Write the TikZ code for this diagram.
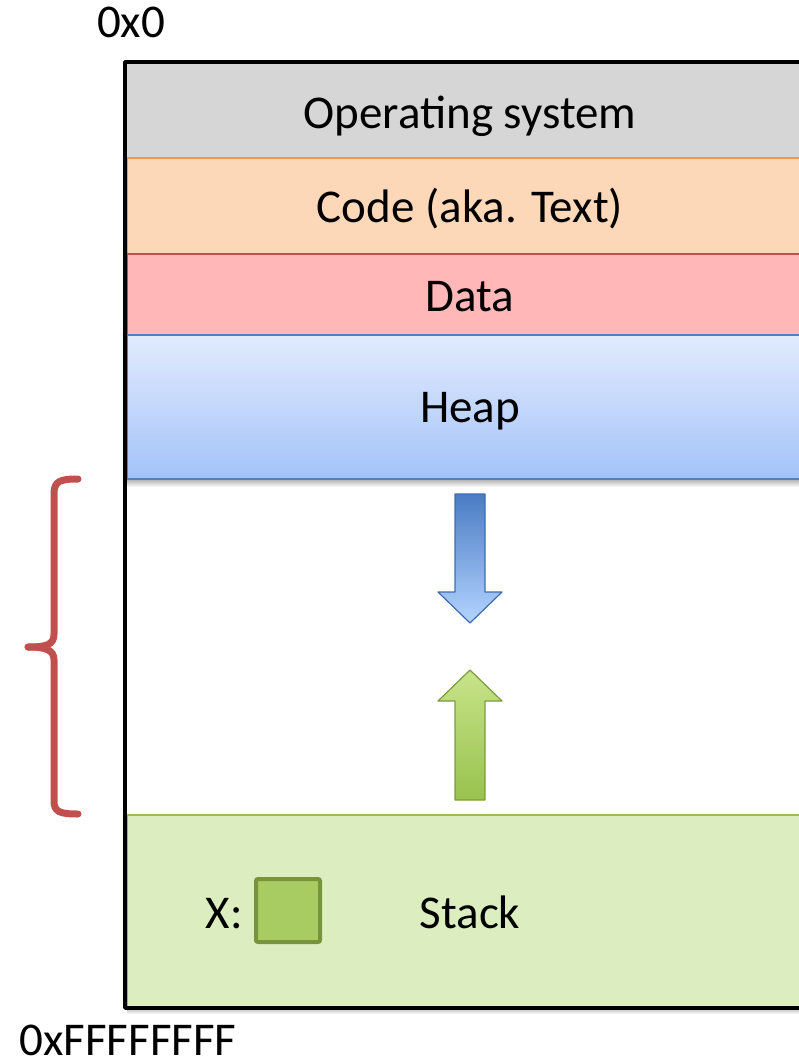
\documentclass[tikz,border=0pt]{standalone}
\usepackage{fontspec}
\setmainfont{Carlito}
\definecolor{osgray}{HTML}{D6D6D6}
\definecolor{codefill}{HTML}{FDD8B8}
\definecolor{codeline}{HTML}{F79646}
\definecolor{datafill}{HTML}{FFB7B7}
\definecolor{dataline}{HTML}{C0504D}
\definecolor{heaptop}{HTML}{E2EBFD}
\definecolor{heapbot}{HTML}{A3C3F9}
\definecolor{heapline}{HTML}{4F81BD}
\definecolor{stackfill}{HTML}{DCEEC0}
\definecolor{stackline}{HTML}{9BBB59}
\definecolor{varfill}{HTML}{A9CC62}
\definecolor{varline}{HTML}{77933C}
\definecolor{bracered}{HTML}{C0504D}
\definecolor{bluedark}{HTML}{4A7CC4}
\definecolor{bluelight}{HTML}{B4D4FF}
\definecolor{blueedge}{HTML}{3E6DAE}
\definecolor{greenlight}{HTML}{C8E48A}
\definecolor{greendark}{HTML}{98C24E}
\definecolor{greenedge}{HTML}{7C9C3E}
\tikzset{
  label/.style={inner sep=0pt, anchor=base, font=\fontsize{47}{56}\selectfont},
  section/.style={line width=1.5pt},
  growarrow/.style={line width=1.2pt, line join=round},
  bracepath/.style={draw=bracered, line width=7pt, line cap=round, line join=round},
  shadowband/.style={top color=black!28, bottom color=white, draw=none}
}
\begin{document}
\begin{tikzpicture}[x=1pt,y=-1pt]
\useasboundingbox (0,0) rectangle (799,1063);
\begin{scope}
  \clip (0,0) rectangle (799,1063);
  % memory segments, top to bottom
  \fill[osgray] (125,62) rectangle (820,158);
  \draw[section, draw=codeline, fill=codefill] (127,158) rectangle (820,254);
  \draw[section, draw=dataline, fill=datafill] (127,254) rectangle (820,335);
  \shade[top color=heaptop, bottom color=heapbot] (127,335) rectangle (820,479);
  \draw[section, draw=heapline] (127,479) -- (127,335) -- (820,335);
  \fill[shadowband] (127,480) rectangle (820,487);
  \draw[section, draw=heapline] (127,479) -- (820,479);
  \fill[shadowband] (127,1008) rectangle (820,1014);
  \draw[section, draw=stackline, fill=stackfill] (127,815) rectangle (820,1007);
  % outer frame of the address space
  \draw[line width=3.5pt, line join=round] (820,62) -- (125,62) -- (125,1008) -- (820,1008);
\end{scope}

% heap growth arrow (downwards)
\shade[top color=bluedark, bottom color=bluelight, draw=blueedge, growarrow]
  (455,494) -- (485,494) -- (485,592) -- (502,592) -- (470,623) -- (438,592) -- (455,592) -- cycle;
% stack growth arrow (upwards)
\shade[top color=greenlight, bottom color=greendark, draw=greenedge, growarrow]
  (470,670) -- (502,701) -- (485,701) -- (485,800) -- (455,800) -- (455,701) -- (438,701) -- cycle;

% brace spanning the free region
\draw[bracepath] (78,479) .. controls (60,479) and (54,481) .. (54,494)
  -- (54,634) .. controls (54,645) and (46,647) .. (28,647);
\draw[bracepath] (28,647) .. controls (46,647) and (54,650) .. (54,660)
  -- (54,801) .. controls (54,812) and (60,814) .. (78,814);

% segment labels
\node[label] (os)    at (470,128) {Operating system};
\node[label] (code)  at (470,222) {Code (aka. Text)};
\node[label] (data)  at (470,311) {Data};
\node[label] (heap)  at (470,422) {Heap};
\node[label] (stack) at (470,928) {Stack};

% local variable x on the stack
\draw[line width=4pt, draw=varline, fill=varfill, rounded corners=2pt] (256,879) rectangle (320,942);
\node[label, anchor=base east] (xlabel) at (243,928) {X:};

% address bounds
\node[label] (low)  at (131,37) {0x0};
\node[label] (high) at (128,1055) {0xFFFFFFFF};
\end{tikzpicture}
\end{document}
